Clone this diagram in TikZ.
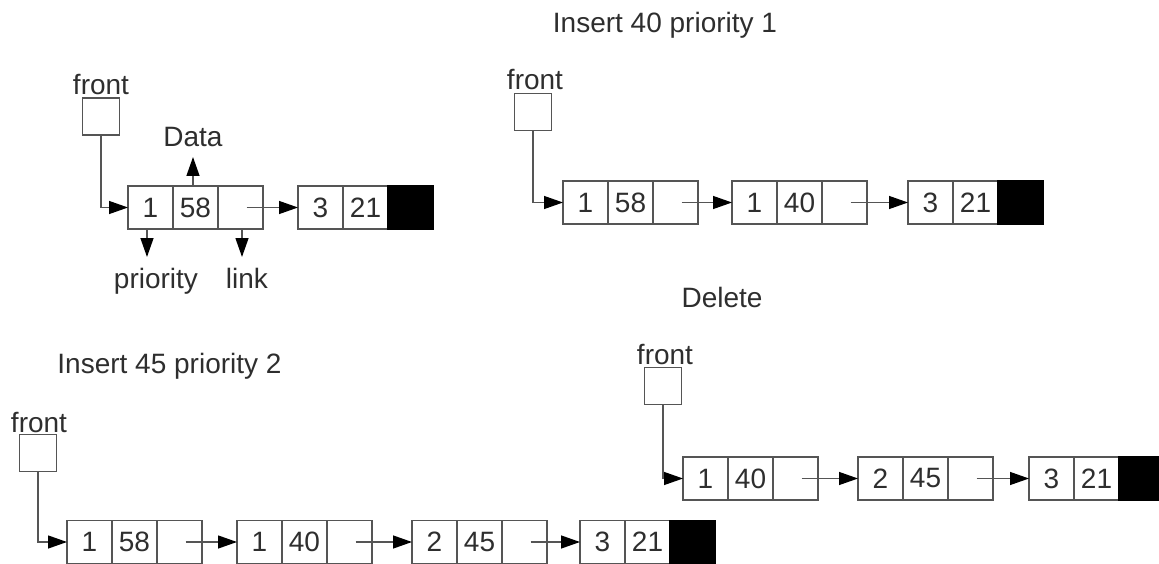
\documentclass[tikz,border=0pt]{standalone}
\usepackage{fontspec}
\setmainfont{Liberation Sans}
\usetikzlibrary{arrows.meta}
\definecolor{linegray}{HTML}{555555}
\definecolor{textgray}{HTML}{2E2E2E}
\tikzset{
 cell/.style={draw=linegray, line width=1.3pt, minimum width=45pt, minimum height=43pt, inner sep=0pt, outer sep=0pt, anchor=west, text=textgray, font=\fontsize{28}{30}\selectfont},
 nullcell/.style={fill=black, draw=black},
 fbox/.style={draw=linegray, line width=1.3pt, minimum width=37pt, minimum height=37pt, inner sep=0pt, outer sep=0pt},
 txt/.style={text=textgray, font=\fontsize{28}{30}\selectfont, inner sep=0pt, anchor=base},
 ptr/.style={draw=linegray, line width=1.3pt, -{Triangle[length=19pt,width=13pt,color=black]}},
}
\newcommand\QNode[6]{%
 \node[cell] (#1p) at (#2,#3) {#4};
 \node[cell] (#1d) at (#1p.east) {#5};
 \node[cell,#6] (#1l) at (#1d.east) {};
}
\begin{document}
\begin{tikzpicture}[x=1pt,y=-1pt]
\useasboundingbox (0,0) rectangle (1159,564);
% ---------- Diagram 1 ----------
\node[txt] (fr1) at (101,95) {front};
\node[fbox] (f1) at (101,116.5) {};
\QNode{qa}{128}{207.5}{1}{58}{}
\QNode{qb}{298}{207.5}{3}{21}{nullcell}
\draw[ptr] (f1.south) |- (qap.west);
\draw[ptr] ([xshift=6pt]qal.center) -- (qbp.west);
\coordinate (dataend) at (193,157);
\coordinate (prioend) at (147,257);
\coordinate (linkend) at (242,257);
\draw[ptr] (qad.north -| dataend) -- (dataend);
\draw[ptr] (qap.south -| prioend) -- (prioend);
\draw[ptr] (qal.south -| linkend) -- (linkend);
\node[txt] (datalbl) at (193,147) {Data};
\node[txt] (priolbl) at (156,288) {priority};
\node[txt] (linklbl) at (247,288) {link};
% ---------- Diagram 2 ----------
\node[txt] (t2) at (665,33) {Insert 40 priority 1};
\node[txt] (fr2) at (535,90) {front};
\node[fbox] (f2) at (533,112) {};
\QNode{ra}{563}{202.5}{1}{58}{}
\QNode{rb}{732}{202.5}{1}{40}{}
\QNode{rc}{908}{202.5}{3}{21}{nullcell}
\draw[ptr] (f2.south) |- (rap.west);
\draw[ptr] ([xshift=6pt]ral.center) -- (rbp.west);
\draw[ptr] ([xshift=6pt]rbl.center) -- (rcp.west);
% ---------- Diagram 3 ----------
\node[txt] (t3) at (169.5,373) {Insert 45 priority 2};
\node[txt] (fr3) at (39,432) {front};
\node[fbox] (f3) at (38,453) {};
\QNode{sa}{67}{542}{1}{58}{}
\QNode{sb}{237}{542}{1}{40}{}
\QNode{sc}{412}{542}{2}{45}{}
\QNode{sd}{580}{542}{3}{21}{nullcell}
\draw[ptr] (f3.south) |- (sap.west);
\draw[ptr] ([xshift=6pt]sal.center) -- (sbp.west);
\draw[ptr] ([xshift=6pt]sbl.center) -- (scp.west);
\draw[ptr] ([xshift=6pt]scl.center) -- (sdp.west);
% ---------- Diagram 4 ----------
\node[txt] (t4) at (722,307) {Delete};
\node[txt] (fr4) at (665,364) {front};
\node[fbox] (f4) at (663,386) {};
\QNode{ua}{683}{478.5}{1}{40}{}
\QNode{ub}{858}{478.5}{2}{45}{}
\QNode{uc}{1029}{478.5}{3}{21}{nullcell}
\draw[ptr] (f4.south) |- (uap.west);
\draw[ptr] ([xshift=6pt]ual.center) -- (ubp.west);
\draw[ptr] ([xshift=6pt]ubl.center) -- (ucp.west);
\end{tikzpicture}
\end{document}
